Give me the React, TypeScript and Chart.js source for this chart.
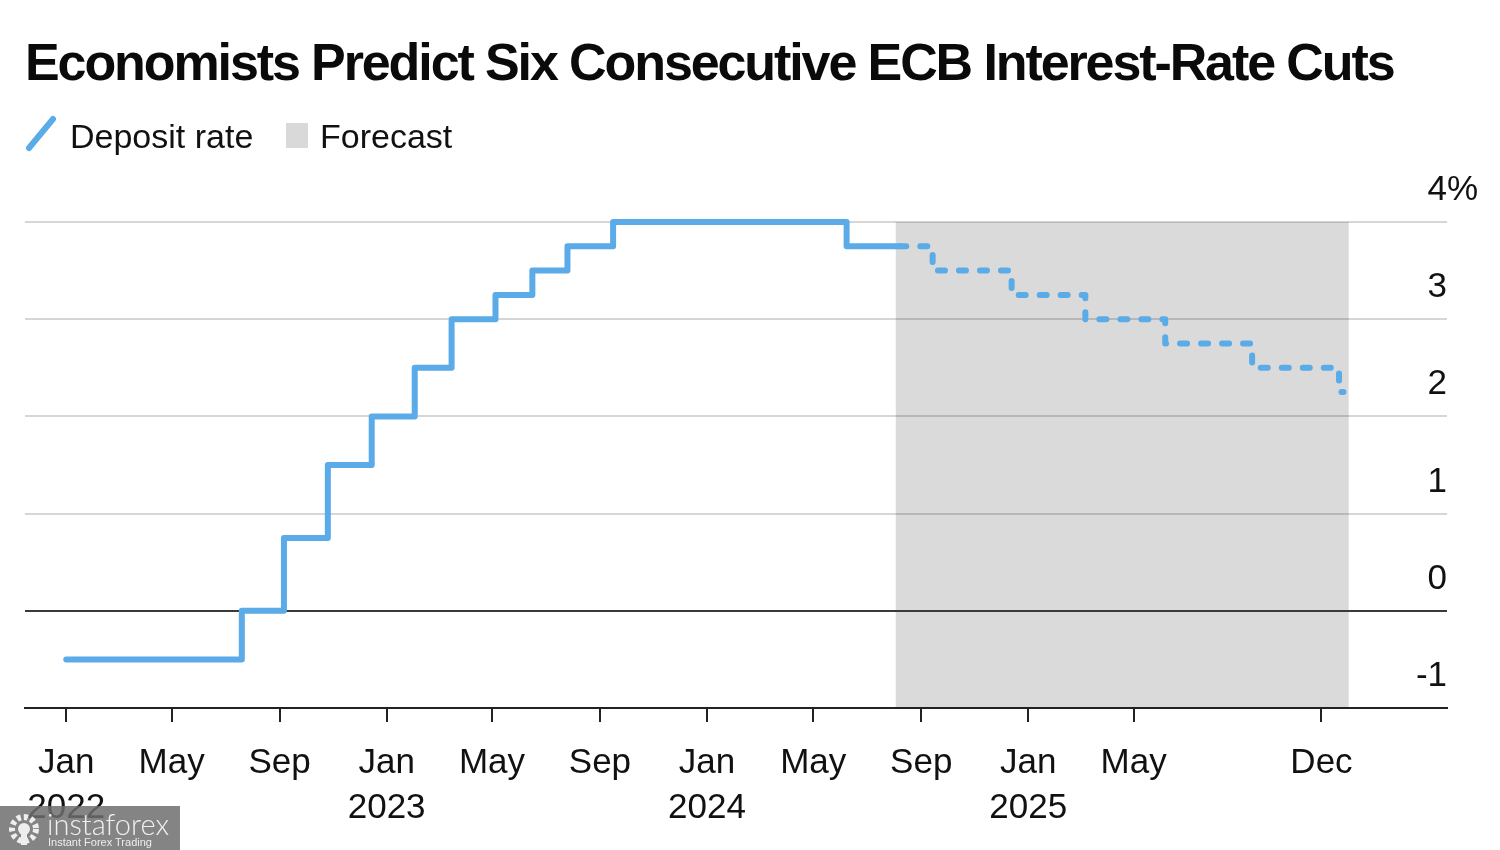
import React, { useEffect, useRef } from "react";
import { Chart, registerables } from "chart.js";

Chart.register(...registerables);

// ---------- data ----------
const depositDates = [
  "2022-01-01", "2022-07-20", "2022-09-06", "2022-10-26", "2022-12-15",
  "2023-02-02", "2023-03-16", "2023-05-05", "2023-06-16", "2023-07-26",
  "2023-09-16", "2024-06-08", "2024-08-07",
];
const depositRates = [-0.5, 0, 0.75, 1.5, 2.0, 2.5, 3.0, 3.25, 3.5, 3.75, 4.0, 3.75, 3.75];

const forecastDates = [
  "2024-08-07", "2024-09-14", "2024-12-13", "2025-03-07",
  "2025-06-06", "2025-09-13", "2025-12-21", "2025-12-26",
];
const forecastRates = [3.75, 3.5, 3.25, 3.0, 2.75, 2.5, 2.25, 2.25];

const forecastStart = "2024-08-03";
const forecastEnd = "2026-01-01";

const xMinDate = "2021-11-15";
const xMaxDate = "2026-04-23";

const xTickDates = [
  "2022-01-01", "2022-05-01", "2022-09-01", "2023-01-01", "2023-05-01", "2023-09-01",
  "2024-01-01", "2024-05-01", "2024-09-01", "2025-01-01", "2025-05-01", "2025-12-01",
];
const xTickLabels: (string | string[])[] = [
  ["Jan", "2022"], "May", "Sep", ["Jan", "2023"], "May", "Sep",
  ["Jan", "2024"], "May", "Sep", ["Jan", "2025"], "May", "Dec",
];

const yTickValues = [-1, 0, 1, 2, 3, 4];
const yTickLabels = ["-1", "0", "1", "2", "3", "4"];

const titleText = "Economists Predict Six Consecutive ECB Interest-Rate Cuts";
const legendLine = "Deposit rate";
const legendShade = "Forecast";

// ---------- helpers ----------
const toDay = (s: string) => Date.parse(s + "T00:00:00Z") / 86400000;
const FONT = "'Liberation Sans', Arial, Helvetica, sans-serif";
const LINE_COLOR = "#5aabe8";

const shadePlugin = {
  id: "forecastShade",
  beforeDraw(chart: any) {
    const { ctx, scales } = chart;
    const x = scales.x, y = scales.y;
    const x0 = x.getPixelForValue(toDay(forecastStart));
    const x1 = x.getPixelForValue(toDay(forecastEnd));
    const y0 = y.getPixelForValue(4);
    const y1 = y.getPixelForValue(-1);
    ctx.save();
    ctx.fillStyle = "#dadada";
    ctx.fillRect(x0, y0, x1 - x0, y1 - y0);
    ctx.restore();
  },
};

const yLabelPlugin = {
  id: "yLabels",
  afterDraw(chart: any) {
    const { ctx, scales, chartArea } = chart;
    const y = scales.y;
    ctx.save();
    ctx.font = `35px ${FONT}`;
    ctx.fillStyle = "#111";
    ctx.textBaseline = "alphabetic";
    const xr = chartArea.right;
    yTickValues.forEach((v, i) => {
      const py = y.getPixelForValue(v) - 22;
      ctx.textAlign = "right";
      ctx.fillText(yTickLabels[i], xr, py);
      if (v === 4) {
        ctx.textAlign = "left";
        ctx.fillText("%", xr, py);
      }
    });
    ctx.restore();
  },
};

function ChartCanvas() {
  const ref = useRef<HTMLCanvasElement | null>(null);
  useEffect(() => {
    if (!ref.current) return;
    const chart = new Chart(ref.current, {
      type: "line",
      data: {
        datasets: [
          {
            label: legendLine,
            data: depositDates.map((d, i) => ({ x: toDay(d), y: depositRates[i] })),
            borderColor: LINE_COLOR,
            borderWidth: 6,
            stepped: "before",
            pointRadius: 0,
            borderCapStyle: "round",
            borderJoinStyle: "round",
            clip: false,
          },
          {
            label: legendShade,
            data: forecastDates.map((d, i) => ({ x: toDay(d), y: forecastRates[i] })),
            borderColor: LINE_COLOR,
            borderWidth: 6,
            borderDash: [7, 14],
            stepped: "before",
            pointRadius: 0,
            borderCapStyle: "round",
            borderJoinStyle: "round",
            clip: false,
          },
        ],
      },
      options: {
        responsive: false,
        animation: false,
        events: [],
        layout: { padding: { left: 25, right: 53, top: 222, bottom: 0 } },
        plugins: { legend: { display: false }, title: { display: false }, tooltip: { enabled: false } },
        scales: {
          x: {
            type: "linear",
            min: toDay(xMinDate),
            max: toDay(xMaxDate),
            afterBuildTicks: (scale: any) => {
              scale.ticks = xTickDates.map((d) => ({ value: toDay(d) }));
            },
            ticks: {
              autoSkip: false,
              maxRotation: 0,
              minRotation: 0,
              padding: 19,
              color: "#111",
              font: { size: 35, family: FONT, lineHeight: 45 / 35 },
              callback: (_v: any, i: number) => xTickLabels[i],
            },
            grid: {
              display: true,
              drawOnChartArea: false,
              drawTicks: true,
              tickLength: 14,
              color: "#222",
              lineWidth: 2,
            },
            border: { display: true, color: "#222", width: 2 },
          },
          y: {
            position: "right",
            min: -1,
            max: 4,
            afterBuildTicks: (scale: any) => {
              scale.ticks = yTickValues.map((v) => ({ value: v }));
            },
            ticks: { display: false },
            grid: {
              drawTicks: false,
              lineWidth: 2,
              color: (c: any) => {
                const v = c.tick ? c.tick.value : null;
                if (v === 0) return "#3a3a3a";
                if (v === -1) return "rgba(0,0,0,0)";
                return "rgba(0,0,0,0.16)";
              },
            },
            border: { display: false },
          },
        },
      } as any,
      plugins: [shadePlugin, yLabelPlugin],
    });
    return () => chart.destroy();
  }, []);
  return (
    <canvas
      ref={ref}
      width={1500}
      height={850}
      style={{ position: "absolute", left: 0, top: 0, width: 1500, height: 850 }}
    />
  );
}

export default function App() {
  return (
    <div
      style={{
        position: "fixed",
        left: 0,
        top: 0,
        width: 1500,
        height: 850,
        background: "#ffffff",
        overflow: "hidden",
        fontFamily: FONT,
        color: "#111",
      }}
    >
      <ChartCanvas />
      <div
        style={{
          position: "absolute",
          left: 25,
          top: 36,
          fontSize: 52,
          lineHeight: "52px",
          fontWeight: 700,
          letterSpacing: "-2.1px",
          whiteSpace: "nowrap",
          color: "#0a0a0a",
        }}
      >
        {titleText}
      </div>
      <svg style={{ position: "absolute", left: 24, top: 114 }} width={36} height={40}>
        <line x1={5} y1={34} x2={29} y2={5} stroke={LINE_COLOR} strokeWidth={6} strokeLinecap="round" />
      </svg>
      <div
        style={{
          position: "absolute",
          left: 70,
          top: 119,
          fontSize: 34,
          lineHeight: "34px",
          whiteSpace: "nowrap",
        }}
      >
        {legendLine}
      </div>
      <div
        style={{ position: "absolute", left: 286, top: 123, width: 22, height: 25, background: "#d9d9d9" }}
      />
      <div
        style={{
          position: "absolute",
          left: 320,
          top: 119,
          fontSize: 34,
          lineHeight: "34px",
          whiteSpace: "nowrap",
        }}
      >
        {legendShade}
      </div>
      {/* watermark */}
      <div
        style={{
          position: "absolute",
          left: 0,
          top: 806,
          width: 180,
          height: 44,
          background: "rgba(110,110,110,0.85)",
        }}
      >
        <svg style={{ position: "absolute", left: 6, top: 6 }} width={38} height={34}>
          <circle cx={18} cy={17} r={12} fill="none" stroke="#eee" strokeWidth={6} strokeDasharray="4 3" />
          <circle cx={18} cy={17} r={6} fill="#eee" />
          <rect x={15} y={17} width={6} height={16} fill="#eee" />
        </svg>
        <div
          style={{
            position: "absolute",
            left: 47,
            top: 3,
            fontSize: 29,
            lineHeight: "29px",
            color: "#f0f0f0",
            fontFamily: "Lato, 'Open Sans', sans-serif",
            fontWeight: 300,
            whiteSpace: "nowrap",
          }}
        >
          instaforex
        </div>
        <div
          style={{
            position: "absolute",
            left: 48,
            top: 31,
            fontSize: 11,
            lineHeight: "11px",
            color: "#eee",
            whiteSpace: "nowrap",
          }}
        >
          Instant Forex Trading
        </div>
      </div>
    </div>
  );
}
